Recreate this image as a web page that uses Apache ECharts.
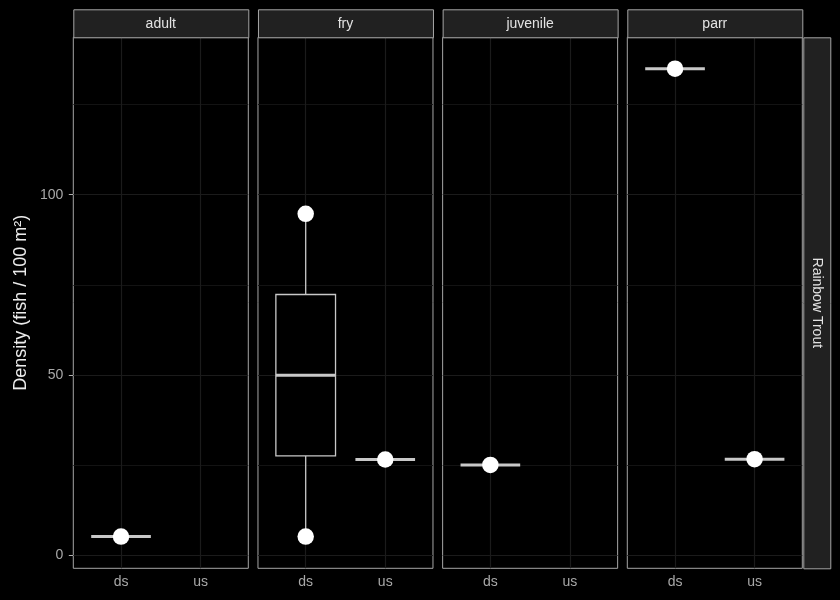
<!DOCTYPE html>
<html><head><meta charset="utf-8">
<script src="https://cdn.jsdelivr.net/npm/echarts@6/dist/echarts.min.js"></script>
<style>html,body{margin:0;background:#000}#c{width:840px;height:600px}</style>
</head><body><div id="c"></div><script>
// ---- data ----
const facets = ['adult', 'fry', 'juvenile', 'parr'];
const sites = ['ds', 'us'];
const rowLabel = 'Rainbow Trout';
const adultDs = [5.1];
const adultUs = [];
const fryDs = [5.1, 94.7];
const fryUs = [26.5];
const juvenileDs = [25.0];
const juvenileUs = [];
const parrDs = [135.0];
const parrUs = [26.6];
const yTicks = [0, 50, 100];
const yMinorTicks = [25, 75, 125];
const yTitle = 'Density (fish / 100 m²)';

const groups = {
  adult: [adultDs, adultUs],
  fry: [fryDs, fryUs],
  juvenile: [juvenileDs, juvenileUs],
  parr: [parrDs, parrUs]
};

// ---- style / layout ----
const FONT = 'Liberation Sans, Arial, sans-serif';
const yLim = [-3.7, 143.7];
const xLim = [0.4, 2.6];
const panelLeft = 73.3, panelStep = 184.67, panelW = 175, panelTop = 37.3, panelH = 531;
const borderCol = '#a6a6a6';
const boxCol = '#c8c8c8';
const gridMajor = '#1b1b1b', gridMinor = '#131313';
const axisTextCol = '#a8a8a8';

function quant(s, p) {
  const h = (s.length - 1) * p, lo = Math.floor(h), hi = Math.ceil(h);
  return s[lo] + (h - lo) * (s[hi] - s[lo]);
}
function boxStats(vals, x) {
  const s = vals.slice().sort((a, b) => a - b);
  const q1 = quant(s, 0.25), md = quant(s, 0.5), q3 = quant(s, 0.75);
  const iqr = q3 - q1;
  const inside = s.filter(v => v >= q1 - 1.5 * iqr && v <= q3 + 1.5 * iqr);
  return [x, inside[0], q1, md, q3, inside[inside.length - 1]];
}

const grid = [], xAxis = [], yAxis = [], series = [], graphic = [];
facets.forEach((f, i) => {
  const left = panelLeft + i * panelStep;
  grid.push({left: left, top: panelTop, width: panelW, height: panelH, show: true,
    backgroundColor: '#000', borderColor: borderCol, borderWidth: 1});
  xAxis.push({type: 'value', gridIndex: i, min: xLim[0], max: xLim[1],
    axisLine: {show: false}, splitLine: {show: false},
    axisTick: {show: true, customValues: [1, 2], length: 4.5, lineStyle: {color: '#b0b0b0', width: 1}},
    axisLabel: {customValues: [1, 2], formatter: v => sites[Math.round(v) - 1], color: axisTextCol,
      fontSize: 14, fontFamily: FONT, margin: 7}});
  yAxis.push({type: 'value', gridIndex: i, min: yLim[0], max: yLim[1],
    axisLine: {show: false}, splitLine: {show: false},
    axisTick: {show: i === 0, customValues: yTicks, length: 4.5, lineStyle: {color: '#b0b0b0', width: 1}},
    axisLabel: {show: i === 0, customValues: yTicks, color: axisTextCol, fontSize: 14, fontFamily: FONT, margin: 10},
    name: i === 0 ? yTitle : '', nameLocation: 'middle', nameGap: 43,
    nameTextStyle: {color: '#ececec', fontSize: 18, fontFamily: FONT}});

  // grid lines
  series.push({type: 'line', xAxisIndex: i, yAxisIndex: i, data: [], z: 1, silent: true,
    markLine: {silent: true, symbol: ['none', 'none'], animation: false, z: 1, label: {show: false},
      lineStyle: {type: 'solid', width: 1, color: gridMajor},
      data: [
        ...yMinorTicks.map(v => ({yAxis: v, lineStyle: {color: gridMinor, type: 'solid', width: 1}})),
        ...yTicks.map(v => ({yAxis: v, lineStyle: {color: gridMajor, type: 'solid', width: 1.2}})),
        ...[1, 2].map(v => ({xAxis: v, lineStyle: {color: gridMajor, type: 'solid', width: 1.2}}))
      ]}});

  const boxData = [], pts = [];
  groups[f].forEach((vals, j) => {
    if (vals.length) {
      boxData.push(boxStats(vals, j + 1));
      vals.forEach(v => pts.push([j + 1, v]));
    }
  });
  series.push({type: 'custom', xAxisIndex: i, yAxisIndex: i, z: 3, silent: true,
    encode: {x: 0, y: [1, 2, 3, 4, 5]}, data: boxData,
    renderItem: (params, api) => {
      const x = api.value(0), lo = api.value(1), q1 = api.value(2), md = api.value(3), q3 = api.value(4), hi = api.value(5);
      const hw = 0.375;
      const c = v => api.coord([x, v]);
      const st = {stroke: boxCol, lineWidth: 1.3, fill: null};
      const ch = [];
      ch.push({type: 'line', shape: {x1: c(hi)[0], y1: c(hi)[1], x2: c(q3)[0], y2: c(q3)[1]}, style: st});
      ch.push({type: 'line', shape: {x1: c(lo)[0], y1: c(lo)[1], x2: c(q1)[0], y2: c(q1)[1]}, style: st});
      if (q3 > q1) {
        const a = api.coord([x - hw, q3]), b = api.coord([x + hw, q1]);
        ch.push({type: 'rect', shape: {x: a[0], y: a[1], width: b[0] - a[0], height: b[1] - a[1]},
          style: {stroke: boxCol, lineWidth: 1.3, fill: '#000'}});
      }
      const m1 = api.coord([x - hw, md]), m2 = api.coord([x + hw, md]);
      ch.push({type: 'line', shape: {x1: m1[0], y1: m1[1], x2: m2[0], y2: m2[1]}, style: {stroke: boxCol, lineWidth: 3}});
      return {type: 'group', children: ch};
    }});
  series.push({type: 'scatter', xAxisIndex: i, yAxisIndex: i, z: 4, silent: true, data: pts,
    symbol: 'circle', symbolSize: 16.5, itemStyle: {color: '#ffffff', opacity: 1}});

  // strip
  graphic.push({type: 'rect', left: left, top: 9.3, z: 10,
    shape: {width: panelW, height: 28}, style: {fill: '#212121', stroke: borderCol, lineWidth: 1}});
  graphic.push({type: 'text', x: left + panelW / 2, y: 23.8, z: 11,
    style: {text: f, fill: '#e3e3e3', font: '14px ' + FONT, textAlign: 'center', textVerticalAlign: 'middle'}});
});
const rsx = panelLeft + 3 * panelStep + panelW + 1;
graphic.push({type: 'rect', left: rsx, top: panelTop, z: 10,
  shape: {width: 27, height: panelH}, style: {fill: '#212121', stroke: borderCol, lineWidth: 1}});
graphic.push({type: 'text', x: rsx + 13.5, y: panelTop + panelH / 2, rotation: -Math.PI / 2, z: 11,
  style: {text: rowLabel, fill: '#e3e3e3', font: '14px ' + FONT, textAlign: 'center', textVerticalAlign: 'middle'}});

const chart = echarts.init(document.getElementById('c'), null, {renderer: 'canvas'});
chart.setOption({backgroundColor: '#000', animation: false, grid, xAxis, yAxis, series, graphic});
</script></body></html>
